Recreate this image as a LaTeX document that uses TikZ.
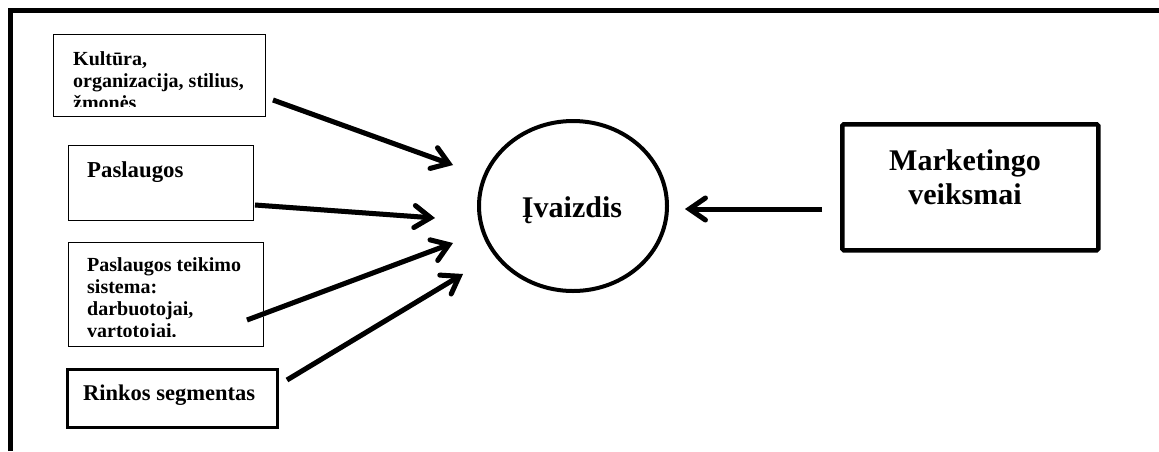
\documentclass[tikz,border=0pt]{standalone}
\usepackage{fontspec}
\setmainfont{Liberation Serif}
\usetikzlibrary{arrows.meta,shapes.geometric}
\begin{document}
\begin{tikzpicture}[x=1pt,y=-1pt,
  thinbox/.style={draw, line width=1.2pt, inner sep=0pt, anchor=north west},
  boxtext/.style={anchor=base west, align=left, inner sep=0pt,
    font=\bfseries\fontsize{20}{22}\selectfont},
  arr/.style={line width=5pt, -{Straight Barb[length=16pt,width=22pt,line width=5pt,line cap=round]}},
  arrshadow/.style={line width=5pt, gray!35, -{Straight Barb[length=16pt,width=22pt,line width=5pt,line cap=round]}, xshift=2pt, yshift=-2pt}
]
\useasboundingbox (0,0) rectangle (1159,451);
% outer frame
\coordinate (fa) at (10,451);
\coordinate (fb) at (10,10);
\coordinate (fc) at (1159,10);
\draw[line width=5pt] (fa) -- (fb) -- (fc);

% box 1
\node[thinbox, minimum width=212pt, minimum height=82pt] (b1) at (53,34) {};
\begin{scope}
  \clip (53,34) rectangle (265,106);
  \node[boxtext] (t1) at (73,109) {Kultūra,\\organizacija, stilius,\\žmonės};
\end{scope}

% box 2
\node[thinbox, minimum width=185pt, minimum height=75pt] (b2) at (68,145) {};
\node[boxtext, font=\bfseries\fontsize{22.8}{24}\selectfont] (t2) at (87,177) {Paslaugos};

% box 3
\node[thinbox, minimum width=195pt, minimum height=104pt] (b3) at (68,242) {};
\begin{scope}
  \clip (68,242) rectangle (263,336);
  \node[boxtext, font=\bfseries\fontsize{20}{21.7}\selectfont] (t3) at (87,337) {Paslaugos teikimo\\sistema:\\darbuotojai,\\vartotojai.};
\end{scope}

% box 4
\node[draw, line width=2.6pt, inner sep=0pt, anchor=north west, minimum width=210pt, minimum height=58pt] (b4) at (66,368) {};
\coordinate (b4a) at (67.5,368);
\coordinate (b4b) at (67.5,426);
\draw[line width=2pt] (b4a) -- (b4b);
\node[anchor=base west, inner sep=0pt, font=\bfseries\fontsize{22.5}{24}\selectfont] (t4) at (83,400) {Rinkos segmentas};

% circle
\node[draw, line width=4pt, ellipse, minimum width=188pt, minimum height=170pt, inner sep=0pt] (c) at (573,206) {};
\node[anchor=base, inner sep=0pt, font=\bfseries\fontsize{30}{34}\selectfont] (tc) at (572,217) {Įvaizdis};

% marketing box
\node[draw, line width=4.5pt, rounded corners=1.5pt, inner sep=0pt, anchor=north west, minimum width=256pt, minimum height=126pt] (m) at (840,122) {};
\node[anchor=base, inner sep=0pt, align=center, font=\bfseries\fontsize{30}{34}\selectfont] (tm) at (965,204) {Marketingo\\veiksmai};

% arrow coordinates
\coordinate (a1s) at (273,100); \coordinate (a1e) at (453,165);
\coordinate (a2s) at (255,205); \coordinate (a2e) at (435,218);
\coordinate (a3s) at (247,320); \coordinate (a3e) at (453,243);
\coordinate (a4s) at (287,380); \coordinate (a4e) at (463,274);
\coordinate (a5s) at (822,209); \coordinate (a5e) at (685,209);

\foreach \s/\e in {a1s/a1e,a2s/a2e,a3s/a3e,a4s/a4e,a5s/a5e}{
  \draw[arrshadow] (\s) -- (\e);
}
\foreach \s/\e in {a1s/a1e,a2s/a2e,a3s/a3e,a4s/a4e,a5s/a5e}{
  \draw[arr] (\s) -- (\e);
}
\end{tikzpicture}
\end{document}
